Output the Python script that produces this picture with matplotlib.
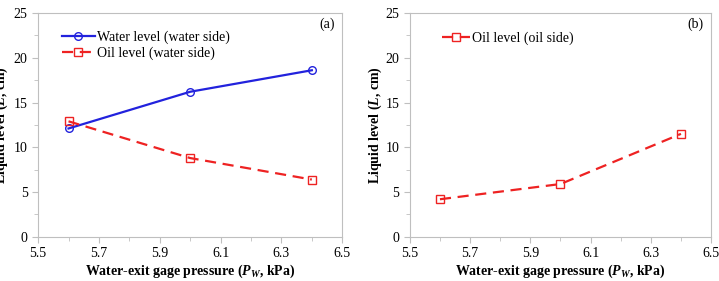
# liquid level vs water-exit gage pressure, two panels

import matplotlib
matplotlib.use("Agg")
import matplotlib.pyplot as plt
from matplotlib.ticker import MultipleLocator

pressure = [5.6, 6.0, 6.4]
water_level_ws = [12.1, 16.2, 18.6]
oil_level_ws = [12.9, 8.8, 6.4]
oil_level_os = [4.2, 5.9, 11.5]

plt.rcParams['font.family'] = ['Liberation Serif', 'DejaVu Serif']
plt.rcParams['mathtext.fontset'] = 'custom'
plt.rcParams['mathtext.rm'] = 'Liberation Serif:bold'
plt.rcParams['mathtext.it'] = 'Liberation Serif:bold:italic'
plt.rcParams['mathtext.bf'] = 'Liberation Serif:bold'


def style_axes(ax, tag, ylab_x):
    ax.set_xlim(5.5, 6.5)
    ax.set_ylim(0, 25)
    ax.xaxis.set_minor_locator(MultipleLocator(0.1))
    ax.yaxis.set_major_locator(MultipleLocator(5))
    ax.yaxis.set_minor_locator(MultipleLocator(2.5))
    ax.set_xticks([5.5, 5.7, 5.9, 6.1, 6.3, 6.5])
    ax.set_xticklabels(["5.5", "5.7", "5.9", "6.1", "6.3", "6.5"])
    for s in ax.spines.values():
        s.set_color("#bfbfbf")
    ax.tick_params(which="both", color="#bfbfbf", labelsize=10, direction="out")
    ax.tick_params(which="major", length=4)
    ax.tick_params(which="minor", length=3)
    ax.set_xlabel(r"Water-exit gage pressure ($P_W$, kPa)", fontsize=10,
                  fontweight="bold", labelpad=2)
    ax.set_ylabel(r"Liquid level ($L$, cm)", fontsize=10, fontweight="bold")
    ax.yaxis.set_label_coords(ylab_x, 0.5)
    ax.text(0.975, 0.95, tag, transform=ax.transAxes, ha="right", va="center",
            fontsize=10)


fig = plt.figure(figsize=(7.19, 2.81), dpi=100)
ax1 = fig.add_axes([0.053, 0.157, 0.423, 0.797])
ax2 = fig.add_axes([0.570, 0.157, 0.419, 0.797])

ax1.plot(pressure, water_level_ws, color="#2222dd", lw=1.6, marker="o",
         ms=5.5, mfc="none", mec="#2222dd", label="Water level (water side)")
ax1.plot(pressure, oil_level_ws, color="#ee2222", lw=1.6, ls=(0, (5, 3)),
         marker="s", ms=5.5, mfc="none", mec="#ee2222",
         label="Oil level (water side)")
style_axes(ax1, "(a)", -0.092)
ax1.legend(loc="upper left", bbox_to_anchor=(0.045, 0.965), frameon=False,
           fontsize=10, handlelength=2.4, handletextpad=0.15, labelspacing=0.2,
           borderaxespad=0.3)

ax2.plot(pressure, oil_level_os, color="#ee2222", lw=1.6, ls=(0, (5, 3)),
         marker="s", ms=5.5, mfc="none", mec="#ee2222",
         label="Oil level (oil side)")
style_axes(ax2, "(b)", -0.086)
ax2.legend(loc="upper left", bbox_to_anchor=(0.075, 0.96), frameon=False,
           fontsize=10, handlelength=2.0, handletextpad=0.15,
           borderaxespad=0.3)

fig.savefig("out.png", dpi=100)
